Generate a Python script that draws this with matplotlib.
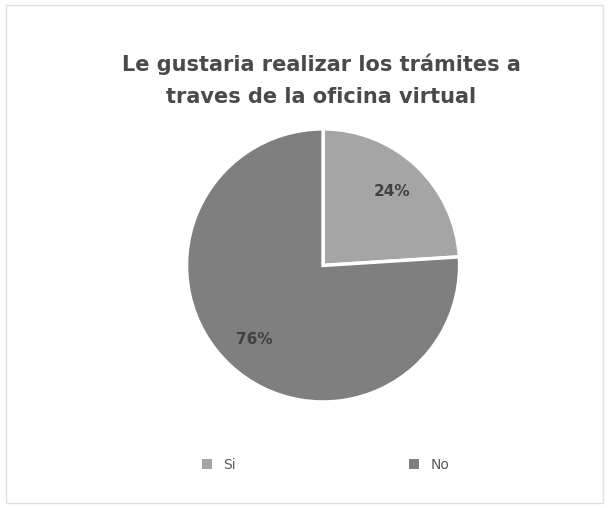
import matplotlib.pyplot as plt
from matplotlib.patches import Patch

labels = ["Si", "No"]
values = [24, 76]
colors = ["#a5a5a5", "#7f7f7f"]
title = "Le gustaria realizar los trámites a\ntraves de la oficina virtual"

fig = plt.figure(figsize=(6.09, 5.08), dpi=100)
fig.patch.set_facecolor("white")

ax = fig.add_axes([0.304, 0.206, 0.453, 0.543])
wedges, texts, autotexts = ax.pie(
    values, colors=colors, startangle=90, counterclock=False,
    autopct="%1.0f%%", pctdistance=0.74,
    wedgeprops=dict(edgecolor="white", linewidth=2.5),
    textprops=dict(fontsize=11, fontweight="bold", color="#404040"),
)
ax.set_xlim(-1.01, 1.01)
ax.set_ylim(-1.01, 1.01)
ax.set_aspect("equal")

fig.text(0.527, 0.842, title, ha="center", va="center", fontsize=15,
         fontweight="bold", color="#4a4a4a", linespacing=1.75)

handles = [Patch(facecolor=c, edgecolor="none") for c in colors]
fig.legend(handles, labels, loc="center", bbox_to_anchor=(0.535, 0.085), ncol=2,
           frameon=False, fontsize=10, columnspacing=12.5, handlelength=0.7,
           handleheight=0.7, labelcolor="#595959")

# faint chart-area border
fig.add_artist(plt.Rectangle((0.01, 0.01), 0.98, 0.98, transform=fig.transFigure,
                             fill=False, edgecolor="#e0e0e0", linewidth=1))

fig.savefig("out.png", dpi=100)
